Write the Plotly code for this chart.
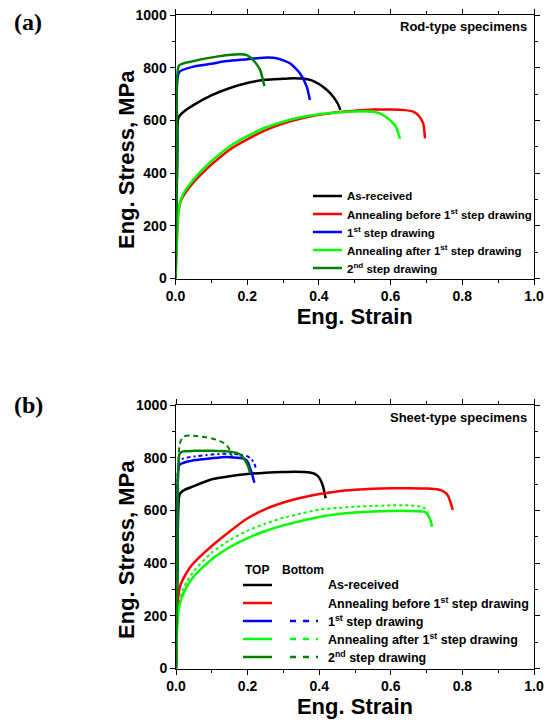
import plotly.graph_objects as go

# ---------------- data: panel (a) rod-type ----------------
a_asrec_x = [0, 0.004, 0.008, 0.02, 0.05, 0.1, 0.15, 0.2, 0.25, 0.3, 0.33, 0.36, 0.38, 0.40, 0.42, 0.44, 0.452, 0.46]
a_asrec_y = [0, 400, 610, 630, 658, 695, 722, 742, 754, 758, 760, 758, 752, 738, 718, 690, 665, 640]

a_ann1_x = [0, 0.004, 0.008, 0.015, 0.03, 0.05, 0.075, 0.1, 0.15, 0.2, 0.25, 0.3, 0.35, 0.4, 0.45, 0.5, 0.55, 0.6, 0.64, 0.663, 0.68, 0.691, 0.696]
a_ann1_y = [0, 150, 250, 295, 330, 365, 400, 432, 488, 528, 562, 588, 607, 621, 631, 637, 641, 641, 639, 633, 615, 589, 532]

a_step1_x = [0, 0.005, 0.01, 0.05, 0.1, 0.143, 0.2, 0.245, 0.282, 0.319, 0.347, 0.366, 0.375]
a_step1_y = [0, 500, 783, 804, 815, 825, 832, 838, 836, 817, 779, 728, 677]

a_ann2_x = [0, 0.004, 0.008, 0.015, 0.03, 0.05, 0.075, 0.1, 0.15, 0.2, 0.25, 0.3, 0.35, 0.4, 0.45, 0.5, 0.55, 0.57, 0.585, 0.598, 0.61, 0.617, 0.626]
a_ann2_y = [0, 150, 255, 300, 340, 375, 412, 445, 500, 540, 572, 595, 612, 623, 630, 634, 633, 627, 615, 601, 585, 570, 530]

a_step2_x = [0, 0.005, 0.01, 0.05, 0.115, 0.18, 0.199, 0.217, 0.236, 0.248]
a_step2_y = [0, 500, 808, 825, 842, 851, 848, 829, 791, 730]

# ---------------- data: panel (b) sheet-type ----------------
b_asrec_x = [0, 0.004, 0.01, 0.02, 0.05, 0.1, 0.15, 0.2, 0.25, 0.3, 0.33, 0.36, 0.383, 0.395, 0.402, 0.41, 0.418]
b_asrec_y = [0, 400, 660, 675, 692, 718, 730, 738, 743, 746, 747, 746, 741, 732, 720, 695, 646]

b_ann1_x = [0, 0.003, 0.006, 0.011, 0.02, 0.04, 0.06, 0.1, 0.15, 0.2, 0.25, 0.3, 0.35, 0.4, 0.45, 0.5, 0.55, 0.6, 0.65, 0.7, 0.73, 0.75, 0.76, 0.767, 0.773]
b_ann1_y = [0, 200, 270, 310, 340, 385, 415, 465, 520, 570, 605, 630, 648, 662, 672, 678, 682, 684, 684, 683, 680, 670, 655, 630, 602]

b_step1_top_x = [0, 0.004, 0.009, 0.02, 0.05, 0.1, 0.14, 0.17, 0.19, 0.2, 0.207, 0.213, 0.219]
b_step1_top_y = [0, 450, 772, 780, 790, 798, 803, 800, 796, 785, 760, 735, 705]
b_step1_bot_x = [0, 0.004, 0.01, 0.03, 0.06, 0.1, 0.14, 0.18, 0.2, 0.21, 0.218, 0.224]
b_step1_bot_y = [0, 450, 790, 800, 806, 812, 815, 812, 805, 795, 780, 755]

b_ann2_top_x = [0, 0.003, 0.007, 0.015, 0.03, 0.05, 0.1, 0.15, 0.2, 0.25, 0.3, 0.35, 0.4, 0.45, 0.5, 0.55, 0.6, 0.65, 0.69, 0.70, 0.707, 0.712, 0.715]
b_ann2_top_y = [0, 150, 220, 265, 310, 350, 415, 460, 495, 522, 543, 560, 575, 585, 592, 596, 598, 598, 596, 590, 575, 558, 538]
b_ann2_bot_x = [0, 0.003, 0.007, 0.015, 0.03, 0.05, 0.1, 0.15, 0.2, 0.25, 0.3, 0.35, 0.4, 0.45, 0.5, 0.55, 0.6, 0.65, 0.68, 0.695, 0.705]
b_ann2_bot_y = [0, 160, 235, 285, 330, 370, 440, 487, 523, 550, 572, 588, 603, 609, 614, 617, 619, 619, 616, 608, 598]

b_step2_top_x = [0, 0.004, 0.01, 0.02, 0.05, 0.1, 0.15, 0.17, 0.185, 0.195, 0.202, 0.207]
b_step2_top_y = [0, 450, 815, 824, 826, 826, 823, 818, 805, 785, 765, 741]
b_step2_bot_x = [0, 0.005, 0.01, 0.02, 0.04, 0.07, 0.1, 0.12, 0.14, 0.15, 0.158]
b_step2_bot_y = [0, 500, 850, 880, 884, 880, 873, 865, 850, 830, 795]

legend_labels = ["As-received",
                 "Annealing before 1<sup>st</sup> step drawing",
                 "1<sup>st</sup> step drawing",
                 "Annealing after 1<sup>st</sup> step drawing",
                 "2<sup>nd</sup> step drawing"]
colors = ["#000000", "#ff0000", "#0000ff", "#00ff00", "#008000"]
has_bottom = [False, False, True, True, True]
bottom_dash = [None, None, "4px,3px,2px,3px", "dot", "5px,4px"]

x_ticks = [0.0, 0.2, 0.4, 0.6, 0.8, 1.0]
y_ticks = [0, 200, 400, 600, 800, 1000]

W, H = 546, 720
FONT = "Liberation Sans, Arial, sans-serif"

def px(x):
    return x / W

def py(y):
    return 1 - y / H

fig = go.Figure()

a_series = [(a_asrec_x, a_asrec_y), (a_ann1_x, a_ann1_y), (a_step1_x, a_step1_y),
            (a_ann2_x, a_ann2_y), (a_step2_x, a_step2_y)]
for (xs, ys), c, name in zip(a_series, colors, legend_labels):
    fig.add_trace(go.Scatter(x=xs, y=ys, mode="lines", name=name, showlegend=False,
                             line=dict(color=c, width=2.5, shape="spline", smoothing=0.6),
                             xaxis="x", yaxis="y"))

b_top = [(b_asrec_x, b_asrec_y), (b_ann1_x, b_ann1_y), (b_step1_top_x, b_step1_top_y),
         (b_ann2_top_x, b_ann2_top_y), (b_step2_top_x, b_step2_top_y)]
b_bot = [None, None, (b_step1_bot_x, b_step1_bot_y), (b_ann2_bot_x, b_ann2_bot_y),
         (b_step2_bot_x, b_step2_bot_y)]
for bot, c, name, dsh in zip(b_bot, colors, legend_labels, bottom_dash):
    if bot is None:
        continue
    fig.add_trace(go.Scatter(x=bot[0], y=bot[1], mode="lines", name=name + " (Bottom)", showlegend=False,
                             line=dict(color=c, width=2.0, dash=dsh, shape="spline", smoothing=0.6),
                             xaxis="x2", yaxis="y2"))
for (xs, ys), c, name in zip(b_top, colors, legend_labels):
    fig.add_trace(go.Scatter(x=xs, y=ys, mode="lines", name=name + " (TOP)", showlegend=False,
                             line=dict(color=c, width=2.5, shape="spline", smoothing=0.6),
                             xaxis="x2", yaxis="y2"))

tickfont = dict(family=FONT, size=14, color="black", weight="bold")
titlefont = dict(family=FONT, size=22, color="black", weight="bold")

def xax(domain, anchor):
    return dict(domain=domain, anchor=anchor, range=[0, 1.0], tickvals=x_ticks,
                ticktext=["%.1f" % v for v in x_ticks], ticks="outside", ticklen=5,
                tickwidth=1, tickcolor="black", showline=True, linecolor="black", linewidth=1,
                mirror="ticks", showgrid=False, zeroline=False, tickfont=tickfont,
                automargin=False,
                minor=dict(dtick=0.1, ticks="outside", ticklen=3, tickcolor="black", showgrid=False),
                title=dict(text="Eng. Strain", font=titlefont, standoff=4))

def yax(domain, anchor):
    return dict(domain=domain, anchor=anchor, range=[0, 1000], tickvals=y_ticks,
                ticks="outside", ticklen=5, tickwidth=1, tickcolor="black",
                showline=True, linecolor="black", linewidth=1, mirror="ticks",
                showgrid=False, zeroline=False, tickfont=tickfont,
                automargin=False,
                minor=dict(dtick=100, ticks="outside", ticklen=3, tickcolor="black", showgrid=False))

fig.update_layout(
    width=W, height=H, margin=dict(l=0, r=0, t=0, b=0, autoexpand=False),
    paper_bgcolor="white", plot_bgcolor="white", showlegend=False,
    xaxis=xax([px(175.5), px(534)], "y"),
    yaxis=yax([py(278.5), py(15)], "x"),
    xaxis2=xax([px(176), px(534)], "y2"),
    yaxis2=yax([py(668.5), py(405)], "x2"),
)

ann = []
shapes = []

def text(t, x, y, size, anchor="left", family=FONT, angle=0):
    ann.append(dict(text=t, x=px(x), y=py(y), xref="paper", yref="paper",
                    xanchor=anchor, yanchor="middle", showarrow=False, textangle=angle,
                    font=dict(family=family, size=size, color="black", weight="bold")))

SERIF = "Liberation Serif, Times New Roman, serif"
text("(a)", 12, 22, 24, family=SERIF)
text("(b)", 12, 405, 24, family=SERIF)
text("Rod-type specimens", 529, 27, 13, anchor="right")
text("Sheet-type specimens", 529, 417, 13, anchor="right")

# y-axis titles
text("Eng. Stress, MPa", 126, 160, 22, anchor="center", angle=-90)
text("Eng. Stress, MPa", 126, 550, 22, anchor="center", angle=-90)

# legend (a)
rows_a = [196, 214, 232, 250, 268]
for ry, c, lab in zip(rows_a, colors, legend_labels):
    shapes.append(dict(type="line", xref="paper", yref="paper", x0=px(313), x1=px(342),
                       y0=py(ry), y1=py(ry), line=dict(color=c, width=2.5)))
    text(lab, 345, ry, 11.5)

# legend (b)
text("TOP", 243, 570, 12)
text("Bottom", 280, 570, 12)
rows_b = [585, 603, 621, 639, 657]
for ry, c, lab, hb in zip(rows_b, colors, legend_labels, has_bottom):
    shapes.append(dict(type="line", xref="paper", yref="paper", x0=px(243), x1=px(272),
                       y0=py(ry), y1=py(ry), line=dict(color=c, width=2.5)))
    if hb:
        shapes.append(dict(type="line", xref="paper", yref="paper", x0=px(290), x1=px(318),
                           y0=py(ry), y1=py(ry), line=dict(color=c, width=2.5, dash="6px,7px")))
    text(lab, 326, ry, 12.5)

fig.update_layout(annotations=ann, shapes=shapes)
fig.write_html("out.html", config={"displayModeBar": False},
               post_script="document.body.style.margin='0';document.body.style.padding='0';")
